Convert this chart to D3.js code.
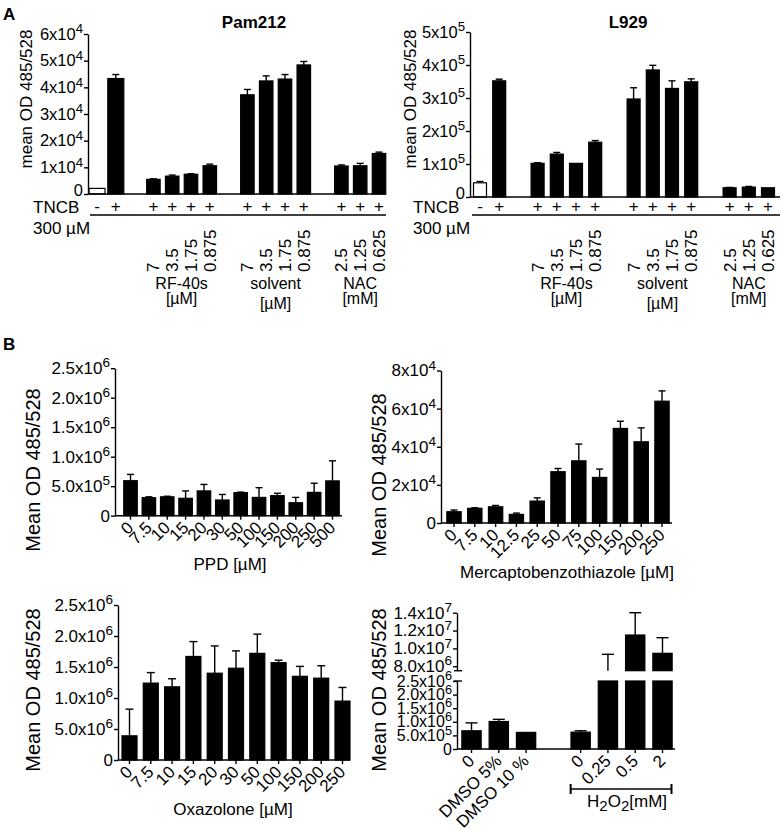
<!DOCTYPE html>
<html><head><meta charset="utf-8">
<script src="https://cdn.jsdelivr.net/npm/d3@7"></script>
<style>body{margin:0;background:#fff} svg text{font-family:"Liberation Sans",Arial,Helvetica,sans-serif;fill:#000}</style>
</head><body><svg id="c" width="783" height="831"></svg>
<script>
// ---------------- DATA ----------------
// Panel A (shared categories)
const aGroupNames = ["", "RF-40s", "solvent", "NAC"];
const aGroupUnits = ["", "[µM]", "[µM]", "[mM]"];
const aDoses = [["", ""], ["7", "3.5", "1.75", "0.875"], ["7", "3.5", "1.75", "0.875"], ["2.5", "1.25", "0.625"]];
const aTNCB = [["-", "+"], ["+", "+", "+", "+"], ["+", "+", "+", "+"], ["+", "+", "+"]];
const pamMean = [2100, 43300, 5500, 6700, 7400, 10600, 37200, 42400, 43100, 48400, 10500, 10600, 15200];
const pamSD   = [0, 1500, 200, 400, 200, 600, 2000, 1900, 1700, 1300, 400, 900, 500];
const pamTicks = [0, 1e4, 2e4, 3e4, 4e4, 5e4, 6e4];
const pamTickLabels = ["0", "1x10^4", "2x10^4", "3x10^4", "4x10^4", "5x10^4", "6x10^4"];
const l929Mean = [43000, 352000, 102000, 130000, 102000, 166000, 297000, 385000, 329000, 349000, 28000, 30000, 28000];
const l929SD   = [4000, 5000, 2000, 5000, 0, 5000, 34000, 14000, 23000, 9000, 1000, 2000, 0];
const l929Ticks = [0, 1e5, 2e5, 3e5, 4e5, 5e5];
const l929TickLabels = ["0", "1x10^5", "2x10^5", "3x10^5", "4x10^5", "5x10^5"];

// Panel B
const ppdCats = ["0", "7.5", "10", "15", "20", "30", "50", "100", "150", "200", "250", "500"];
const ppdMean = [593000, 305000, 320000, 295000, 420000, 266000, 390000, 310000, 340000, 220000, 395000, 590000];
const ppdSD   = [107000, 15000, 10000, 125000, 110000, 94000, 10000, 165000, 40000, 90000, 155000, 340000];
const ppdTicks = [0, 5e5, 1e6, 1.5e6, 2e6, 2.5e6];
const ppdTickLabels = ["0", "5.0x10^5", "1.0x10^6", "1.5x10^6", "2.0x10^6", "2.5x10^6"];

const mbtCats = ["0", "7.5", "10", "12.5", "25", "50", "75", "100", "150", "200", "250"];
const mbtMean = [5900, 7700, 8500, 4500, 11500, 26900, 32600, 23900, 49600, 42600, 63900];
const mbtSD   = [900, 300, 700, 700, 1700, 1700, 8800, 4400, 3800, 7300, 5400];
const mbtTicks = [0, 2e4, 4e4, 6e4, 8e4];
const mbtTickLabels = ["0", "2x10^4", "4x10^4", "6x10^4", "8x10^4"];

const oxaCats = ["0", "7.5", "10", "15", "20", "30", "50", "100", "150", "200", "250"];
const oxaMean = [390000, 1240000, 1180000, 1670000, 1400000, 1480000, 1720000, 1570000, 1350000, 1320000, 950000];
const oxaSD   = [430000, 170000, 130000, 240000, 440000, 280000, 310000, 40000, 160000, 200000, 220000];
const oxaTicks = [0, 5e5, 1e6, 1.5e6, 2e6, 2.5e6];
const oxaTickLabels = ["0", "5.0x10^6", "1.0x10^6", "1.5x10^6", "2.0x10^6", "2.5x10^6"];

const h2oCats = ["0", "DMSO 5%", "DMSO 10 %", "", "0 ", "0.25", "0.5", "2"];
const h2oMean = [670000, 1010000, 610000, null, 620000, 5500000, 11500000, 9450000];
const h2oSD   = [290000, 80000, 0, null, 50000, 3840000, 2500000, 1750000];
const h2oLowTicks = [0, 5e5, 1e6, 1.5e6, 2e6, 2.5e6];
const h2oLowTickLabels = ["0", "5.0x10^5", "1.0x10^6", "1.5x10^6", "2.0x10^6", "2.5x10^6"];
const h2oUpTicks = [8e6, 1e7, 1.2e7, 1.4e7];
const h2oUpTickLabels = ["8.0x10^6", "1.0x10^7", "1.2x10^7", "1.4x10^7"];

// ---------------- HELPERS ----------------
const svg = d3.select("#c");
const AX = 1.4;

function addSup(sel, supSize) {
  sel.each(function () {
    const t = d3.select(this);
    const parts = t.text().split("^");
    t.text(null);
    t.append("tspan").text(parts[0]);
    if (parts[1]) t.append("tspan").attr("dy", "-0.5em").attr("font-size", supSize).text(parts[1]);
  });
}

function yAxis(x, scale, ticks, labels, fs) {
  const ax = d3.axisLeft(scale).tickValues(ticks).tickFormat((d, i) => labels[i])
    .tickSize(4).tickPadding(1).tickSizeOuter(0);
  const a = svg.append("g").attr("transform", `translate(${x},0)`).call(ax);
  a.attr("font-family", null).attr("font-size", null);
  a.select(".domain").attr("stroke", "#000").attr("stroke-width", AX);
  a.selectAll(".tick line").attr("stroke", "#000").attr("stroke-width", AX);
  a.selectAll(".tick text").attr("font-size", fs).attr("fill", "#000").call(addSup, fs * 0.8);
  return a;
}

function hLine(x0, x1, y) {
  svg.append("line").attr("x1", x0).attr("x2", x1).attr("y1", y).attr("y2", y)
    .attr("stroke", "#000").attr("stroke-width", AX);
}

function rotLabel(text, x, y, fs) {
  svg.append("text").attr("transform", `translate(${x},${y}) rotate(-90)`)
    .attr("text-anchor", "middle").attr("font-size", fs).text(text);
}

function drawBars(xs, ys, cats, means, sds, bw, capW, fillFn) {
  const data = cats.map((c, i) => ({ c, m: means[i], s: sds[i], i })).filter(d => d.m != null);
  const g = svg.append("g");
  g.selectAll("line.err").data(data.filter(d => d.s > 0)).join("line")
    .attr("x1", d => xs(d.c)).attr("x2", d => xs(d.c))
    .attr("y1", d => ys(d.m)).attr("y2", d => ys(d.m + d.s))
    .attr("stroke", "#000").attr("stroke-width", 1.4);
  g.selectAll("line.cap").data(data.filter(d => d.s > 0)).join("line")
    .attr("x1", d => xs(d.c) - capW / 2).attr("x2", d => xs(d.c) + capW / 2)
    .attr("y1", d => ys(d.m + d.s)).attr("y2", d => ys(d.m + d.s))
    .attr("stroke", "#000").attr("stroke-width", 1.4);
  g.selectAll("rect").data(data).join("rect")
    .attr("x", d => xs(d.c) - bw(d) / 2).attr("width", d => bw(d))
    .attr("y", d => ys(d.m)).attr("height", d => ys(0) - ys(d.m))
    .attr("fill", d => fillFn(d)).attr("stroke", "#000").attr("stroke-width", 1.2);
}

function xTickLabels(xs, cats, y0, fs) {
  svg.append("g").selectAll("text").data(cats.filter(c => c !== "")).join("text")
    .attr("transform", c => `translate(${xs(c) + 4},${y0 + 13}) rotate(-45)`)
    .attr("text-anchor", "end").attr("font-size", fs).text(c => c.trim());
}

function xTicks(xs, cats, y0) {
  svg.append("g").selectAll("line").data(cats.filter(c => c !== "")).join("line")
    .attr("x1", c => xs(c)).attr("x2", c => xs(c)).attr("y1", y0).attr("y2", y0 + 4)
    .attr("stroke", "#000").attr("stroke-width", AX);
}

// ---------------- PANEL A ----------------
svg.append("text").attr("x", 3).attr("y", 20).attr("font-size", 17).attr("font-weight", "bold").text("A");

function panelA(cfg) {
  const slots = [];
  const items = [];
  aDoses.forEach((doses, gi) => {
    if (gi > 0) slots.push("gap" + gi);
    doses.forEach((d, di) => {
      const key = gi + "_" + di;
      slots.push(key);
      items.push({ key, gi, di, dose: d, tncb: aTNCB[gi][di] });
    });
  });
  const xs = d3.scalePoint().domain(slots).range(cfg.xRange);
  const ys = d3.scaleLinear().domain([0, cfg.ticks[cfg.ticks.length - 1]]).range([cfg.y0, cfg.yTop]);
  const keys = items.map(d => d.key);

  drawBars(xs, ys, keys, cfg.mean, cfg.sd,
    d => (items[d.i].gi === 0 ? cfg.bw0 : cfg.bw), 7,
    d => (d.i === 0 ? "#fff" : "#000"));

  const ya = yAxis(cfg.axisX, ys, cfg.ticks, cfg.tickLabels, 16.5);
  ya.selectAll(".tick text").filter(d => d === 0).attr("dy", "0.1em");
  hLine(cfg.axisX, cfg.axisEnd, cfg.y0);

  svg.append("text").attr("x", cfg.titleX).attr("y", 28).attr("text-anchor", "middle")
    .attr("font-size", 17).attr("font-weight", "bold").text(cfg.title);
  rotLabel("mean OD 485/528", cfg.labelX, 99, 17);

  svg.append("text").attr("x", cfg.tncbX).attr("y", 213).attr("font-size", 17).text("TNCB");
  svg.append("text").attr("x", cfg.tncbX).attr("y", 234).attr("font-size", 17).text("300 µM");
  svg.append("g").selectAll("text").data(items).join("text")
    .attr("x", d => xs(d.key)).attr("y", 212).attr("text-anchor", "middle").attr("font-size", 17)
    .text(d => d.tncb);
  hLine(cfg.axisX + 2, cfg.axisEnd, 215);

  svg.append("g").selectAll("text").data(items.filter(d => d.dose !== "")).join("text")
    .attr("transform", d => `translate(${xs(d.key)},272) rotate(-90)`)
    .attr("dy", "0.35em").attr("font-size", 17).text(d => d.dose);

  aGroupNames.forEach((name, gi) => {
    if (!name) return;
    const ks = items.filter(d => d.gi === gi).map(d => xs(d.key));
    const cx = d3.mean(ks);
    svg.append("text").attr("x", cx).attr("y", 289).attr("text-anchor", "middle").attr("font-size", 16).text(name);
    svg.append("text").attr("x", cx).attr("y", name === "solvent" ? 309 : 304).attr("text-anchor", "middle")
      .attr("font-size", 16).text(aGroupUnits[gi]);
  });
}

panelA({ title: "Pam212", titleX: 254, labelX: 32, tncbX: 33, axisX: 88, axisEnd: 386,
  y0: 194, yTop: 34, xRange: [97, 379], bw0: 16, bw: 13.5,
  mean: pamMean, sd: pamSD, ticks: pamTicks, tickLabels: pamTickLabels });
panelA({ title: "L929", titleX: 628, labelX: 416, tncbX: 413, axisX: 470, axisEnd: 780,
  y0: 197, yTop: 32, xRange: [480, 768], bw0: 13, bw: 13,
  mean: l929Mean, sd: l929SD, ticks: l929Ticks, tickLabels: l929TickLabels });

// ---------------- PANEL B ----------------
svg.append("text").attr("x", 3).attr("y", 350).attr("font-size", 17).attr("font-weight", "bold").text("B");

const B_LABEL = 20;

function panelB(cfg) {
  const xs = d3.scalePoint().domain(cfg.cats).range(cfg.xRange);
  const ys = d3.scaleLinear().domain([0, cfg.ticks[cfg.ticks.length - 1]]).range([cfg.y0, cfg.yTop]);
  drawBars(xs, ys, cfg.cats, cfg.mean, cfg.sd, () => cfg.bw, cfg.cap, () => "#000");
  yAxis(cfg.axisX, ys, cfg.ticks, cfg.tickLabels, 17);
  hLine(cfg.axisX, cfg.axisEnd, cfg.y0);
  xTicks(xs, cfg.cats, cfg.y0);
  xTickLabels(xs, cfg.cats, cfg.y0, 17);
  rotLabel("Mean OD 485/528", cfg.labelX, cfg.labelY, B_LABEL);
  svg.append("text").attr("x", cfg.titleX).attr("y", cfg.titleY).attr("text-anchor", "middle")
    .attr("font-size", 17).text(cfg.xTitle);
}

panelB({ cats: ppdCats, mean: ppdMean, sd: ppdSD, ticks: ppdTicks, tickLabels: ppdTickLabels,
  axisX: 115, axisEnd: 342, y0: 515.7, yTop: 368.2, xRange: [130.5, 332.5], bw: 13.5, cap: 7,
  labelX: 40, labelY: 470, xTitle: "PPD [µM]", titleX: 230, titleY: 570 });
panelB({ cats: mbtCats, mean: mbtMean, sd: mbtSD, ticks: mbtTicks, tickLabels: mbtTickLabels,
  axisX: 441, axisEnd: 672, y0: 523, yTop: 370.5, xRange: [454, 662], bw: 14.3, cap: 7,
  labelX: 386, labelY: 475, xTitle: "Mercaptobenzothiazole [µM]", titleX: 567, titleY: 578 });
panelB({ cats: oxaCats, mean: oxaMean, sd: oxaSD, ticks: oxaTicks, tickLabels: oxaTickLabels,
  axisX: 118, axisEnd: 350, y0: 760, yTop: 605, xRange: [129.5, 342.5], bw: 15, cap: 8,
  labelX: 40, labelY: 690, xTitle: "Oxazolone [µM]", titleX: 233, titleY: 815 });

// Broken-axis chart (H2O2)
(function () {
  const axisX = 457, y0 = 749, axisEnd = 675;
  const xs = d3.scalePoint().domain(h2oCats).range([471.5, 662.5]);
  const yLow = d3.scaleLinear().domain([0, 2.5e6]).range([y0, 681]);
  const yUp = d3.scaleLinear().domain([7.5e6, 1.4e7]).range([670.7, 612.7]);
  const bw = 19.3, cap = 12;
  const lowMax = yLow.domain()[1], upMin = yUp.domain()[0];
  const data = h2oCats.map((c, i) => ({ c, m: h2oMean[i], s: h2oSD[i] })).filter(d => d.m != null);
  const g = svg.append("g");
  data.forEach(d => {
    const cx = xs(d.c);
    g.append("rect").attr("x", cx - bw / 2).attr("width", bw)
      .attr("y", yLow(Math.min(d.m, lowMax))).attr("height", yLow(0) - yLow(Math.min(d.m, lowMax)))
      .attr("fill", "#000").attr("stroke", "#000").attr("stroke-width", 1.2);
    if (d.m > upMin) {
      g.append("rect").attr("x", cx - bw / 2).attr("width", bw)
        .attr("y", yUp(d.m)).attr("height", yUp(upMin) - yUp(d.m))
        .attr("fill", "#000").attr("stroke", "#000").attr("stroke-width", 1.2);
    }
    if (d.s > 0) {
      const top = d.m + d.s;
      let ya, yb;
      if (top <= lowMax) { ya = yLow(d.m); yb = yLow(top); }
      else if (top > upMin) { ya = yUp(Math.max(d.m, upMin)); yb = yUp(top); }
      if (ya != null) {
        g.append("line").attr("x1", cx).attr("x2", cx).attr("y1", ya).attr("y2", yb)
          .attr("stroke", "#000").attr("stroke-width", 1.4);
        g.append("line").attr("x1", cx - cap / 2).attr("x2", cx + cap / 2).attr("y1", yb).attr("y2", yb)
          .attr("stroke", "#000").attr("stroke-width", 1.4);
      }
    }
  });
  yAxis(axisX, yLow, h2oLowTicks, h2oLowTickLabels, 16);
  yAxis(axisX, yUp, h2oUpTicks, h2oUpTickLabels, 17);
  [yUp(upMin), yLow(lowMax)].forEach(y => hLine(axisX - 3, axisX + 5, y));
  hLine(axisX, axisEnd, y0);
  xTicks(xs, h2oCats, y0);
  xTickLabels(xs, h2oCats, y0, 17);
  rotLabel("Mean OD 485/528", 386, 690, B_LABEL);
  const bx0 = xs("0 ") - 10, bx1 = xs("2") + 9, by = 789;
  hLine(bx0, bx1, by);
  [bx0, bx1].forEach(x => svg.append("line").attr("x1", x).attr("x2", x).attr("y1", by - 5).attr("y2", by + 5)
    .attr("stroke", "#000").attr("stroke-width", 2));
  const t = svg.append("text").attr("x", (bx0 + bx1) / 2 + 6).attr("y", 807).attr("text-anchor", "middle").attr("font-size", 17);
  t.append("tspan").text("H");
  t.append("tspan").attr("dy", 4).attr("font-size", 15).text("2");
  t.append("tspan").attr("dy", -4).text("O");
  t.append("tspan").attr("dy", 4).attr("font-size", 15).text("2");
  t.append("tspan").attr("dy", -4).text("[mM]");
})();
</script></body></html>
